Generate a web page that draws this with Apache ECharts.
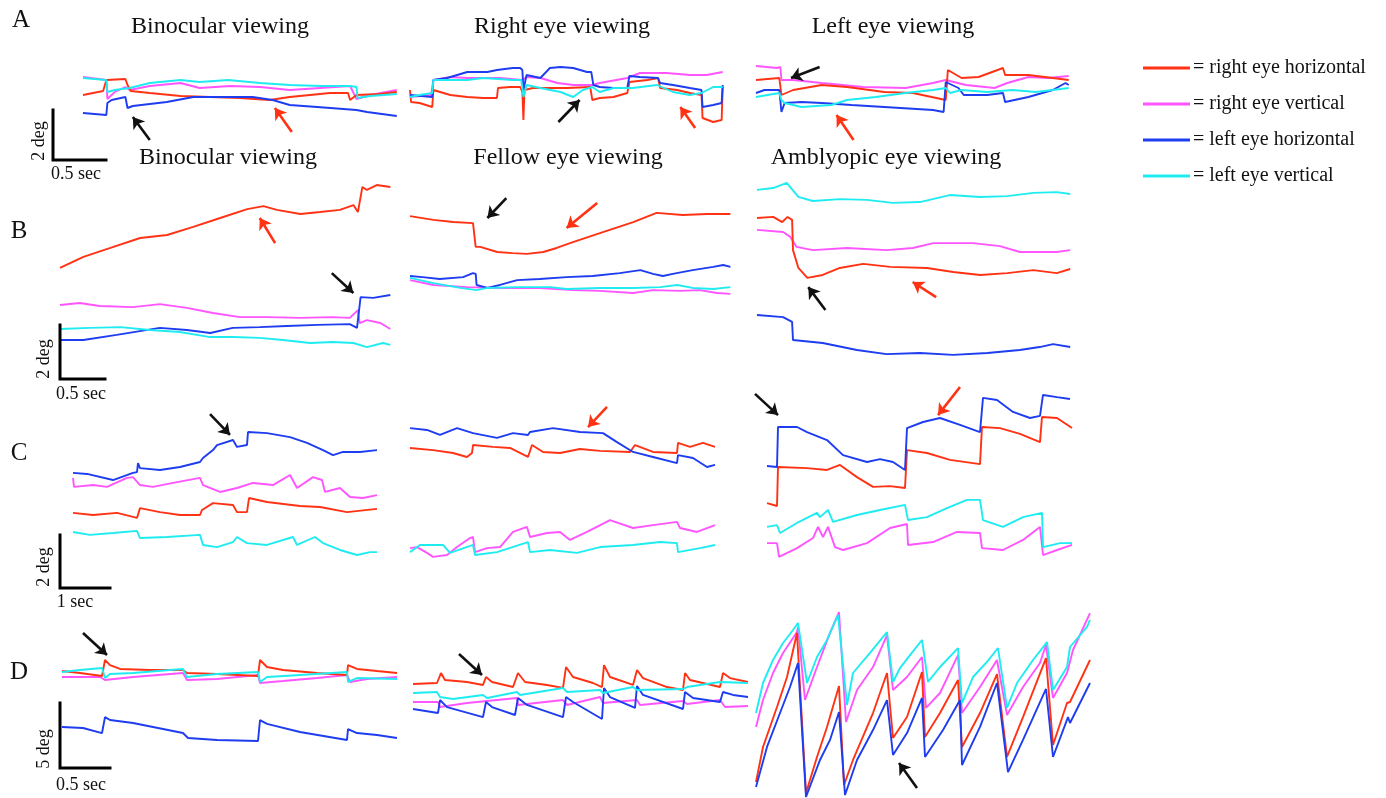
<!DOCTYPE html>
<html><head><meta charset="utf-8">
<script src="https://cdn.jsdelivr.net/npm/echarts/dist/echarts.min.js"></script>
<style>html,body{margin:0;padding:0;background:#fff}#c{width:1386px;height:798px}</style>
</head><body><div id="c"></div>
<script>
// ---- labels ----
const traceKeys = ['rv','rh','lh','lv'];
const traceNames = {rh:'= right eye horizontal', rv:'= right eye vertical', lh:'= left eye horizontal', lv:'= left eye vertical'};
const legendOrder = ['rh','rv','lh','lv'];
const rowLetters = ['A','B','C','D'];
const titlesRowA = ['Binocular viewing','Right eye viewing','Left eye viewing'];
const titlesRowB = ['Binocular viewing','Fellow eye viewing','Amblyopic eye viewing'];
const scaleLabels = {A:['2 deg','0.5 sec'],B:['2 deg','0.5 sec'],C:['2 deg','1 sec'],D:['5 deg','0.5 sec']};
const scaleBars = {A:[[0,2],[0,0],[0.5,0]],B:[[0,2],[0,0],[0.5,0]],C:[[0,2],[0,0],[1,0]],D:[[0,5],[0,0],[0.5,0]]};

// ---- data: [time (s), position (deg)] ----
const A1_rh=[[0,1.20],[0.19,1.36],[0.22,1.80],[0.40,1.84],[0.42,1.60],[0.45,1.36],[0.63,1.28],[0.92,1.16],[1.20,1.12],[1.48,1.08],[1.76,1.00],[1.95,1.12],[2.14,1.20],[2.33,1.28],[2.50,1.28],[2.52,1.00],[2.58,1.20],[2.80,1.24],[2.96,1.32]];
const A1_rv=[[0,1.92],[0.22,1.80],[0.23,1.04],[0.30,1.32],[0.40,1.52],[0.44,1.40],[0.63,1.56],[0.92,1.68],[1.10,1.48],[1.39,1.56],[1.67,1.52],[1.95,1.40],[2.24,1.48],[2.52,1.56],[2.58,1.04],[2.71,1.20],[2.96,1.40]];
const A1_lh=[[0,0.48],[0.22,0.40],[0.23,0.88],[0.27,1.00],[0.40,1.12],[0.42,0.68],[0.47,0.76],[0.79,0.92],[1.04,1.12],[1.42,1.12],[1.60,1.12],[1.79,1.00],[1.95,0.80],[2.21,0.72],[2.58,0.60],[2.59,0.68],[2.68,0.52],[2.96,0.36]];
const A1_lv=[[0,1.88],[0.22,1.80],[0.23,1.32],[0.30,1.40],[0.44,1.48],[0.63,1.68],[0.92,1.80],[1.10,1.72],[1.37,1.80],[1.67,1.68],[1.95,1.60],[2.24,1.56],[2.52,1.56],[2.58,1.52],[2.59,1.08],[2.71,1.16],[2.96,1.24]];
const A1_black=[[[0.63,-0.60],[0.47,0.32]]];
const A1_red=[[[1.97,-0.28],[1.81,0.68]]];

const A2_lh=[[0,1.20],[0.21,1.12],[0.22,1.80],[0.35,1.88],[0.54,2.12],[0.73,2.12],[0.82,2.20],[0.97,2.28],[1.04,2.28],[1.06,2.20],[1.07,1.40],[1.10,2.00],[1.23,1.88],[1.32,2.28],[1.42,2.32],[1.54,2.28],[1.67,2.12],[1.71,2.12],[1.73,1.60],[1.79,1.52],[1.92,1.48],[2.05,1.48],[2.07,1.96],[2.17,1.92],[2.34,1.88],[2.36,1.68],[2.48,1.60],[2.64,1.48],[2.75,1.40],[2.76,0.72],[2.86,0.80],[2.94,0.88],[2.95,1.60]];
const A2_rh=[[0,1.40],[0.01,0.92],[0.09,0.88],[0.21,0.72],[0.22,1.40],[0.38,1.20],[0.54,1.12],[0.69,1.08],[0.82,1.08],[0.83,1.48],[0.94,1.52],[1.04,1.52],[1.06,1.32],[1.07,0.20],[1.08,1.40],[1.16,1.48],[1.32,1.48],[1.48,1.48],[1.70,1.52],[1.72,1.00],[1.79,1.08],[1.92,1.12],[2.05,1.28],[2.07,1.72],[2.24,1.80],[2.34,1.88],[2.36,1.48],[2.52,1.40],[2.64,1.28],[2.75,1.20],[2.76,0.28],[2.86,0.12],[2.94,0.20],[2.95,1.52]];
const A2_lv=[[0,1.12],[0.09,1.20],[0.21,1.28],[0.22,1.80],[0.38,1.80],[0.54,1.80],[0.69,1.88],[0.97,1.80],[1.05,1.80],[1.07,1.12],[1.10,1.60],[1.23,1.48],[1.42,1.32],[1.54,1.12],[1.63,1.40],[1.72,1.52],[1.79,1.32],[1.92,1.48],[2.10,1.48],[2.33,1.60],[2.48,1.32],[2.64,1.20],[2.75,1.28],[2.86,1.52],[2.95,1.52]];
const A2_rv=[[0,1.12],[0.20,1.20],[0.22,1.80],[0.38,1.92],[0.54,1.88],[0.85,1.88],[1.06,1.80],[1.10,1.92],[1.23,1.88],[1.39,1.68],[1.54,1.60],[1.72,1.60],[1.79,1.68],[2.05,1.88],[2.17,2.08],[2.42,2.08],[2.64,2.00],[2.80,2.00],[2.95,2.12]];
const A2_black=[[[1.40,0.12],[1.60,1.00]]];
const A2_red=[[[2.69,-0.12],[2.55,0.72]]];

const A3_rv=[[0,2.36],[0.20,2.28],[0.23,2.32],[0.24,1.80],[0.35,1.80],[0.62,1.68],[1.01,1.52],[1.41,1.48],[1.67,1.68],[1.79,1.80],[1.98,1.60],[2.25,1.48],[2.37,1.68],[2.57,1.92],[2.76,1.88],[2.95,1.96]];
const A3_rh=[[0,1.80],[0.22,1.88],[0.24,1.20],[0.35,1.40],[0.62,1.60],[0.86,1.52],[1.21,1.32],[1.48,1.28],[1.79,1.00],[1.81,2.20],[1.94,1.88],[2.10,1.92],[2.33,2.28],[2.35,2.00],[2.57,2.00],[2.80,1.88],[2.95,1.80]];
const A3_lh=[[0,1.28],[0.08,1.40],[0.22,1.40],[0.24,0.52],[0.27,0.88],[0.43,0.92],[0.62,0.88],[0.90,0.80],[1.21,0.72],[1.67,0.60],[1.77,0.52],[1.79,1.72],[1.91,1.48],[1.96,1.20],[2.18,1.20],[2.33,1.28],[2.35,0.92],[2.57,1.12],[2.80,1.40],[2.92,1.68],[2.95,1.60]];
const A3_lv=[[0,1.12],[0.22,1.28],[0.24,1.00],[0.27,0.88],[0.43,0.72],[0.71,0.80],[0.86,1.00],[1.13,1.12],[1.41,1.28],[1.67,1.40],[1.79,1.48],[1.83,1.28],[1.94,1.40],[2.18,1.32],[2.42,1.40],[2.64,1.32],[2.80,1.40],[2.95,1.48]];
const A3_black=[[[0.60,2.32],[0.33,1.88]]];
const A3_red=[[[0.92,-0.60],[0.76,0.40]]];

const B1_rh=[[0,4.15],[0.26,4.56],[0.56,4.89],[0.89,5.26],[1.19,5.37],[1.48,5.67],[1.78,6.00],[2.08,6.33],[2.26,6.44],[2.41,6.30],[2.67,6.15],[2.89,6.22],[3.11,6.30],[3.26,6.48],[3.31,6.22],[3.36,7.15],[3.41,7.04],[3.52,7.22],[3.67,7.15]];
const B1_rv=[[0,2.78],[0.22,2.85],[0.44,2.74],[0.81,2.70],[1.11,2.81],[1.41,2.67],[1.70,2.48],[2.00,2.33],[2.30,2.33],[2.67,2.30],[3.03,2.33],[3.22,2.30],[3.31,2.59],[3.33,2.11],[3.41,2.22],[3.56,2.11],[3.67,1.89]];
const B1_lv=[[0,1.89],[0.33,1.93],[0.67,1.96],[1.00,1.85],[1.33,1.78],[1.67,1.59],[1.92,1.59],[2.22,1.56],[2.48,1.48],[2.78,1.37],[3.03,1.41],[3.26,1.37],[3.41,1.22],[3.59,1.37],[3.67,1.30]];
const B1_lh=[[0,1.48],[0.26,1.48],[0.63,1.67],[1.11,1.93],[1.41,1.85],[1.67,1.74],[1.92,1.93],[2.22,1.96],[2.52,2.00],[2.86,2.04],[3.22,2.07],[3.30,1.93],[3.34,3.07],[3.48,3.04],[3.67,3.15]];
const B1_black=[[[3.02,3.96],[3.26,3.22]]];
const B1_red=[[[2.39,5.07],[2.22,6.00]]];

const B2_rh=[[0,6.07],[0.26,5.93],[0.48,5.85],[0.70,5.81],[0.73,4.93],[0.78,4.93],[0.97,4.74],[1.14,4.70],[1.30,4.67],[1.48,4.74],[1.63,4.89],[1.81,5.11],[2.11,5.44],[2.48,5.85],[2.74,6.19],[3.03,6.11],[3.30,6.15],[3.56,6.15]];
const B2_lh=[[0,3.85],[0.14,3.81],[0.33,3.74],[0.59,3.81],[0.70,3.96],[0.73,3.93],[0.74,3.52],[0.86,3.41],[1.00,3.52],[1.19,3.70],[1.44,3.74],[1.74,3.81],[2.03,3.85],[2.33,3.96],[2.56,4.07],[2.70,3.93],[2.81,3.85],[2.92,3.93],[3.14,4.07],[3.37,4.19],[3.48,4.26],[3.56,4.19]];
const B2_lv=[[0,3.78],[0.26,3.59],[0.56,3.41],[0.74,3.33],[0.86,3.41],[1.19,3.44],[1.56,3.44],[1.74,3.37],[2.11,3.41],[2.48,3.41],[2.78,3.44],[2.97,3.52],[3.14,3.41],[3.37,3.37],[3.56,3.44]];
const B2_rv=[[0,3.70],[0.26,3.52],[0.63,3.44],[1.00,3.41],[1.44,3.41],[1.81,3.33],[2.11,3.30],[2.48,3.22],[2.70,3.33],[3.00,3.30],[3.22,3.33],[3.41,3.22],[3.56,3.19]];
const B2_black=[[[1.07,6.74],[0.86,6.00]]];
const B2_red=[[[2.08,6.56],[1.74,5.63]]];

const B3_lv=[[0,7.04],[0.18,7.11],[0.33,7.30],[0.46,6.78],[0.62,6.63],[0.92,6.70],[1.22,6.67],[1.51,6.56],[1.81,6.59],[2.14,6.85],[2.48,6.78],[2.78,6.81],[3.07,6.93],[3.33,6.96],[3.48,6.89]];
const B3_rh=[[0,6.00],[0.18,6.04],[0.28,5.85],[0.34,6.04],[0.39,5.93],[0.40,4.81],[0.46,4.15],[0.56,3.78],[0.73,3.89],[0.92,4.15],[1.18,4.30],[1.48,4.19],[1.89,4.15],[2.18,4.00],[2.48,3.89],[2.78,3.96],[3.07,4.07],[3.33,3.96],[3.48,4.11]];
const B3_rv=[[0,5.56],[0.29,5.48],[0.37,5.30],[0.44,4.93],[0.62,4.81],[1.00,4.89],[1.44,4.81],[1.73,4.89],[1.96,5.07],[2.40,5.07],[2.70,4.96],[2.92,4.74],[3.33,4.74],[3.48,4.81]];
const B3_lh=[[0,2.41],[0.29,2.33],[0.39,2.15],[0.40,1.48],[0.73,1.37],[1.11,1.11],[1.44,0.96],[1.81,1.00],[2.18,0.93],[2.56,1.00],[2.92,1.11],[3.14,1.22],[3.29,1.33],[3.48,1.22]];
const B3_black=[[[0.76,2.59],[0.57,3.44]]];
const B3_red=[[[1.99,3.07],[1.73,3.63]]];

const C1_lh=[[0,4.42],[0.28,4.38],[0.80,4.15],[1.20,4.42],[1.28,4.45],[1.30,4.79],[1.34,4.60],[1.74,4.53],[2.14,4.64],[2.54,4.83],[2.60,4.98],[2.80,5.28],[2.88,5.47],[3.20,5.66],[3.28,5.40],[3.48,5.47],[3.50,5.96],[3.88,5.92],[4.34,5.77],[4.68,5.55],[5.00,5.28],[5.20,5.09],[5.40,5.21],[5.74,5.21],[6.08,5.28]];
const C1_rv=[[0,4.23],[0.02,3.89],[0.40,3.96],[0.68,3.89],[1.08,4.23],[1.20,4.26],[1.34,3.96],[1.60,3.89],[2.00,4.04],[2.54,4.23],[2.60,3.96],[2.94,3.70],[3.28,3.85],[3.60,4.04],[4.00,3.96],[4.34,4.34],[4.48,3.85],[4.80,4.26],[4.98,4.15],[5.04,3.70],[5.34,3.85],[5.54,3.51],[5.80,3.47],[6.08,3.58]];
const C1_rh=[[0,2.91],[0.40,2.83],[0.88,2.91],[1.28,2.72],[1.34,3.09],[1.74,2.94],[2.14,2.83],[2.54,2.83],[2.58,3.02],[2.80,3.28],[3.20,3.21],[3.28,2.94],[3.48,2.94],[3.52,3.47],[3.88,3.32],[4.54,3.17],[4.94,3.13],[5.48,2.94],[6.08,3.06]];
const C1_lv=[[0,2.19],[0.34,2.08],[0.80,2.15],[1.28,2.23],[1.34,1.96],[1.88,2.00],[2.54,2.08],[2.60,1.70],[2.88,1.62],[3.20,1.81],[3.28,2.00],[3.48,1.77],[3.88,1.70],[4.40,2.00],[4.48,1.70],[4.84,2.00],[5.00,1.77],[5.34,1.51],[5.68,1.32],[5.94,1.43],[6.08,1.43]];
const C1_black=[[[2.74,6.64],[3.14,5.85]]];
const C1_red=[];

const C2_lh=[[0,6.11],[0.34,6.04],[0.60,5.85],[0.94,6.11],[1.26,5.92],[1.74,5.74],[2.06,5.92],[2.36,5.85],[2.40,5.96],[2.86,6.11],[3.40,5.96],[3.86,5.92],[4.14,5.58],[4.46,5.21],[4.86,5.02],[5.34,4.79],[5.36,5.09],[5.66,4.98],[5.94,4.64],[6.10,4.72]];
const C2_rh=[[0,5.36],[0.46,5.28],[0.86,5.17],[1.14,5.02],[1.24,5.17],[1.26,5.47],[1.66,5.40],[2.00,5.36],[2.36,5.02],[2.44,5.47],[2.66,5.21],[3.00,5.17],[3.40,5.32],[3.80,5.25],[4.40,5.21],[4.50,5.47],[4.86,5.21],[5.34,5.17],[5.36,5.55],[5.60,5.40],[5.86,5.55],[6.10,5.40]];
const C2_rv=[[0,1.58],[0.14,1.62],[0.34,1.40],[0.46,1.25],[0.74,1.32],[0.94,1.62],[1.20,1.96],[1.26,2.00],[1.30,1.43],[1.54,1.58],[1.80,1.62],[2.06,2.19],[2.34,2.38],[2.40,2.00],[2.74,2.15],[3.00,2.19],[3.20,1.89],[3.54,2.19],[4.00,2.64],[4.46,2.34],[4.86,2.45],[5.34,2.57],[5.40,2.34],[5.74,2.19],[6.10,2.45]];
const C2_lv=[[0,1.43],[0.20,1.70],[0.66,1.70],[0.80,1.40],[1.26,1.70],[1.30,1.32],[1.74,1.43],[2.36,1.81],[2.40,1.43],[2.80,1.51],[3.34,1.40],[3.80,1.62],[4.46,1.70],[5.00,1.81],[5.34,1.77],[5.36,1.43],[5.80,1.58],[6.10,1.70]];
const C2_black=[];
const C2_red=[[[3.94,6.91],[3.56,6.15]]];

const C3_lh=[[0,4.68],[0.20,4.64],[0.22,6.15],[0.60,6.15],[0.80,5.96],[1.20,5.66],[1.52,5.09],[2.00,4.83],[2.26,4.94],[2.52,4.83],[2.76,4.53],[2.80,6.11],[3.12,6.34],[3.46,6.49],[3.86,6.23],[4.26,5.96],[4.32,7.25],[4.60,7.17],[4.92,6.72],[5.26,6.49],[5.46,6.57],[5.52,7.36],[5.80,7.28],[6.06,7.21]];
const C3_rh=[[0,3.28],[0.20,3.17],[0.22,4.64],[0.80,4.60],[1.20,4.53],[1.46,4.72],[1.80,4.26],[2.12,3.89],[2.46,3.92],[2.76,3.85],[2.80,5.28],[3.20,5.17],[3.66,4.91],[4.26,4.75],[4.30,6.15],[4.66,6.11],[5.06,5.89],[5.46,5.58],[5.50,6.53],[5.80,6.49],[6.10,6.11]];
const C3_lv=[[0,2.38],[0.20,2.45],[0.26,2.15],[0.60,2.53],[1.00,2.91],[1.06,2.75],[1.22,3.02],[1.32,2.57],[1.80,2.83],[2.26,3.02],[2.76,3.21],[2.82,2.64],[3.20,2.75],[3.60,3.09],[4.00,3.40],[4.26,3.40],[4.32,2.64],[4.72,2.38],[5.12,2.75],[5.50,2.91],[5.52,1.62],[5.86,1.77],[6.10,1.77]];
const C3_rv=[[0,1.77],[0.20,1.77],[0.24,1.25],[0.60,1.58],[0.92,1.96],[1.02,2.38],[1.12,2.00],[1.22,2.38],[1.36,1.62],[1.52,1.51],[2.00,1.77],[2.46,2.34],[2.80,2.49],[2.82,1.70],[3.32,1.81],[3.80,2.19],[4.26,2.15],[4.30,1.58],[4.72,1.51],[5.12,1.89],[5.46,2.38],[5.52,1.32],[5.80,1.51],[6.10,1.70]];
const C3_black=[[[-0.24,7.40],[0.22,6.60]]];
const C3_red=[[[3.86,7.66],[3.42,6.60]]];

const D1_rh=[[0,9.92],[0.18,9.77],[0.40,9.54],[0.43,10.77],[0.48,10.38],[0.58,10.08],[0.88,10.00],[1.21,10.00],[1.25,9.77],[1.55,9.69],[1.96,9.54],[1.98,10.77],[2.05,10.23],[2.21,10.00],[2.55,9.77],[2.85,9.62],[2.86,10.38],[2.95,10.08],[3.15,9.92],[3.35,9.77]];
const D1_lv=[[0,9.85],[0.18,10.00],[0.40,10.15],[0.43,9.38],[0.48,9.69],[0.71,9.77],[1.21,10.08],[1.25,9.46],[1.55,9.69],[1.96,9.85],[1.98,9.08],[2.05,9.46],[2.38,9.62],[2.85,9.85],[2.86,9.08],[2.95,9.38],[3.35,9.31]];
const D1_rv=[[0,9.46],[0.38,9.46],[0.43,9.23],[0.71,9.46],[1.21,9.77],[1.25,9.23],[1.55,9.31],[1.96,9.62],[1.98,9.00],[2.21,9.15],[2.55,9.38],[2.85,9.62],[2.88,9.08],[3.05,9.31],[3.35,9.46]];
const D1_lh=[[0,5.62],[0.21,5.54],[0.40,5.15],[0.43,6.38],[0.48,6.15],[0.71,5.92],[1.21,5.15],[1.26,4.77],[1.55,4.62],[1.96,4.54],[1.98,6.15],[2.05,5.85],[2.38,5.23],[2.85,4.62],[2.86,5.46],[2.95,5.15],[3.15,5.00],[3.35,4.77]];
const D1_black=[[[0.21,12.85],[0.45,11.15]]];
const D1_red=[];

const D2_rh=[[0,8.92],[0.24,9.00],[0.28,9.77],[0.32,9.23],[0.54,9.08],[0.70,8.85],[0.73,9.46],[0.79,9.08],[1.00,8.69],[1.05,9.77],[1.12,9.08],[1.34,8.85],[1.50,8.62],[1.53,10.23],[1.60,9.46],[1.80,9.00],[1.89,8.69],[1.91,10.38],[1.97,9.46],[2.20,8.85],[2.24,10.00],[2.30,9.38],[2.54,8.69],[2.70,8.46],[2.72,9.77],[2.77,9.23],[3.07,8.69],[3.10,9.77],[3.17,9.38],[3.35,9.08]];
const D2_lv=[[0,8.23],[0.24,8.31],[0.27,7.92],[0.40,7.77],[0.70,8.08],[0.74,7.85],[1.04,8.31],[1.07,8.08],[1.50,8.62],[1.54,8.31],[1.87,8.46],[1.90,8.23],[2.20,8.69],[2.24,8.46],[2.70,8.54],[2.74,8.69],[3.07,9.08],[3.35,9.00]];
const D2_rv=[[0,7.54],[0.25,7.54],[0.27,7.15],[0.54,7.46],[1.04,7.85],[1.05,7.31],[1.50,7.69],[1.54,7.31],[1.87,7.92],[1.90,7.46],[2.24,7.69],[2.27,7.31],[2.70,7.62],[2.74,7.38],[3.07,7.69],[3.12,7.15],[3.35,7.23]];
const D2_lh=[[0,7.00],[0.25,6.69],[0.27,7.69],[0.34,7.15],[0.70,6.38],[0.73,7.54],[0.79,7.15],[1.02,6.54],[1.05,7.85],[1.14,7.31],[1.50,6.38],[1.53,7.92],[1.60,7.54],[1.89,6.23],[1.91,8.62],[1.97,7.92],[2.22,7.08],[2.24,8.77],[2.30,8.08],[2.70,7.00],[2.72,8.31],[2.80,7.85],[3.07,7.54],[3.10,8.31],[3.20,8.08],[3.35,7.92]];
const D2_black=[[[0.46,11.23],[0.69,9.62]]];
const D2_red=[];

const D3_lv=[[0,6.69],[0.07,9.00],[0.17,10.77],[0.27,12.08],[0.37,13.08],[0.42,13.62],[0.51,9.00],[0.61,11.00],[0.71,12.31],[0.82,14.23],[0.91,7.31],[0.97,9.77],[1.14,11.31],[1.31,12.92],[1.37,9.08],[1.44,10.15],[1.54,11.15],[1.66,12.31],[1.72,9.08],[1.84,10.23],[2.02,11.69],[2.06,7.46],[2.17,9.46],[2.31,10.62],[2.42,11.69],[2.51,7.08],[2.61,9.00],[2.77,10.77],[2.91,12.15],[2.97,8.46],[3.11,10.23],[3.14,11.77],[3.31,13.31],[3.34,13.85]];
const D3_rv=[[0,5.62],[0.07,7.69],[0.17,9.77],[0.27,11.31],[0.41,12.92],[0.42,13.31],[0.49,7.69],[0.61,10.23],[0.74,12.85],[0.83,14.46],[0.90,6.00],[1.01,8.46],[1.17,10.23],[1.31,12.69],[1.37,8.46],[1.51,9.46],[1.66,11.00],[1.70,7.08],[1.84,8.23],[2.02,11.15],[2.06,6.69],[2.24,8.69],[2.41,10.77],[2.51,6.54],[2.67,8.69],[2.84,10.54],[2.90,11.92],[2.97,7.85],[3.11,9.77],[3.17,11.54],[3.34,14.38]];
const D3_rh=[[0,1.38],[0.07,4.08],[0.21,7.15],[0.31,9.46],[0.41,12.85],[0.50,0.54],[0.61,3.31],[0.71,5.62],[0.83,8.77],[0.88,1.15],[0.97,3.08],[1.17,6.69],[1.31,9.77],[1.37,4.77],[1.51,6.38],[1.66,9.85],[1.69,4.85],[1.84,6.69],[2.02,9.23],[2.06,4.08],[2.24,6.69],[2.41,9.69],[2.51,3.31],[2.67,6.38],[2.90,10.92],[2.97,4.23],[3.11,7.46],[3.14,7.54],[3.34,10.77]];
const D3_lh=[[0,1.00],[0.11,4.08],[0.24,6.69],[0.34,8.69],[0.42,10.54],[0.50,0.23],[0.64,3.08],[0.74,4.62],[0.83,6.77],[0.89,0.38],[1.01,3.08],[1.17,5.38],[1.31,7.69],[1.37,3.46],[1.51,5.15],[1.66,7.85],[1.69,3.31],[1.87,5.38],[2.04,7.69],[2.06,2.69],[2.24,5.62],[2.41,9.00],[2.52,2.15],[2.67,4.62],[2.90,8.54],[2.97,3.31],[3.12,6.38],[3.14,5.92],[3.34,9.00]];
const D3_black=[[[1.61,0.92],[1.43,2.85]]];
const D3_red=[];

// ---- layout (pixels) ----
const ROW = {
  A:{kx:106,ky:25,yb:125,top:55,h:110},
  B:{kx:90,ky:27,yb:380,top:170,h:215},
  C:{kx:50,ky:26.5,yb:590,top:380,h:215},
  D:{kx:100,ky:13,yb:800,top:600,h:198}
};
const COLS = {
  A:[{x0:83,left:75,w:330},{x0:410,left:402,w:330},{x0:756,left:745,w:335}],
  B:[{x0:60,left:50,w:345},{x0:410,left:400,w:340},{x0:757,left:745,w:340}],
  C:[{x0:73,left:60,w:330},{x0:410,left:400,w:330},{x0:767,left:745,w:340}],
  D:[{x0:62,left:55,w:350},{x0:413,left:405,w:350},{x0:756,left:748,w:345}]
};
const SCALE = {A:{x0:53,yb:160},B:{x0:60,yb:379},C:{x0:60,yb:588},D:{x0:60,yb:768}};
const COLORS = {rh:'#ff3214', rv:'#ff55ff', lh:'#1e3cf0', lv:'#1eecf0'};
const PANEL_DATA = {
  A1:{rh:A1_rh,rv:A1_rv,lh:A1_lh,lv:A1_lv,black:A1_black,red:A1_red},
  A2:{rh:A2_rh,rv:A2_rv,lh:A2_lh,lv:A2_lv,black:A2_black,red:A2_red},
  A3:{rh:A3_rh,rv:A3_rv,lh:A3_lh,lv:A3_lv,black:A3_black,red:A3_red},
  B1:{rh:B1_rh,rv:B1_rv,lh:B1_lh,lv:B1_lv,black:B1_black,red:B1_red},
  B2:{rh:B2_rh,rv:B2_rv,lh:B2_lh,lv:B2_lv,black:B2_black,red:B2_red},
  B3:{rh:B3_rh,rv:B3_rv,lh:B3_lh,lv:B3_lv,black:B3_black,red:B3_red},
  C1:{rh:C1_rh,rv:C1_rv,lh:C1_lh,lv:C1_lv,black:C1_black,red:C1_red},
  C2:{rh:C2_rh,rv:C2_rv,lh:C2_lh,lv:C2_lv,black:C2_black,red:C2_red},
  C3:{rh:C3_rh,rv:C3_rv,lh:C3_lh,lv:C3_lv,black:C3_black,red:C3_red},
  D1:{rh:D1_rh,rv:D1_rv,lh:D1_lh,lv:D1_lv,black:D1_black,red:D1_red},
  D2:{rh:D2_rh,rv:D2_rv,lh:D2_lh,lv:D2_lv,black:D2_black,red:D2_red},
  D3:{rh:D3_rh,rv:D3_rv,lh:D3_lh,lv:D3_lv,black:D3_black,red:D3_red}
};

const grids=[], xAxes=[], yAxes=[], series=[];
function addGrid(left, top, w, h, x0, yb, kx, ky){
  grids.push({left:left, top:top, width:w, height:h, containLabel:false});
  const i = grids.length-1;
  xAxes.push({type:'value', gridIndex:i, show:false, min:(left-x0)/kx, max:(left+w-x0)/kx});
  yAxes.push({type:'value', gridIndex:i, show:false, min:(yb-(top+h))/ky, max:(yb-top)/ky});
  return i;
}
function arrowSeries(i, arr, color){
  if(!arr.length) return;
  series.push({type:'lines', coordinateSystem:'cartesian2d', xAxisIndex:i, yAxisIndex:i, silent:true, animation:false,
    symbol:['none','arrow'], symbolSize:11, z:5,
    lineStyle:{color:color, width:2.6, opacity:1, curveness:0},
    data: arr.map(a=>({coords:a}))});
}
rowLetters.forEach(r=>{
  const R = ROW[r];
  COLS[r].forEach((c,ci)=>{
    const i = addGrid(c.left, R.top, c.w, R.h, c.x0, R.yb, R.kx, R.ky);
    const P = PANEL_DATA[r+(ci+1)];
    traceKeys.forEach(k=>{
      series.push({type:'line', name:traceNames[k], xAxisIndex:i, yAxisIndex:i, data:P[k],
        showSymbol:false, symbol:'none', clip:false, animation:false, silent:true,
        lineStyle:{color:COLORS[k], width:1.9}, itemStyle:{color:COLORS[k]}});
    });
    arrowSeries(i, P.black, '#111');
    arrowSeries(i, P.red, COLORS.rh);
  });
  // scale bar
  const S = SCALE[r], bar = scaleBars[r];
  const bw = bar[2][0]*R.kx, bh = bar[0][1]*R.ky;
  const j = addGrid(S.x0, S.yb-bh, bw, bh, S.x0, S.yb, R.kx, R.ky);
  series.push({type:'line', xAxisIndex:j, yAxisIndex:j, data:bar, showSymbol:false, symbol:'none', clip:false,
    animation:false, silent:true, lineStyle:{color:'#000', width:3, cap:'square', join:'miter'}});
});

const FONT = 'Liberation Serif';
const graphics = [];
function txt(t, x, y, size, rot){
  graphics.push({type:'text', x:x, y:y, rotation:rot||0, silent:true,
    style:{text:t, fill:'#111', font: size+'px "'+FONT+'"', textAlign:'center', textVerticalAlign:'middle'}});
}
const letterPos = {A:[21,20],B:[19,231],C:[19,453],D:[19,672]};
rowLetters.forEach(r=>txt(r, letterPos[r][0], letterPos[r][1], 25));
const titleA_x=[220,562,893], titleB_x=[228,568,886];
titlesRowA.forEach((t,i)=>txt(t, titleA_x[i], 27, 24));
titlesRowB.forEach((t,i)=>txt(t, titleB_x[i], 158, 24));
const scaleLabelPos = {A:[[39,141],[76,174]],B:[[44,359],[81,394]],C:[[44,567],[75,602]],D:[[44,749],[81,785]]};
rowLetters.forEach(r=>{
  txt(scaleLabels[r][0], scaleLabelPos[r][0][0], scaleLabelPos[r][0][1], 18, Math.PI/2);
  txt(scaleLabels[r][1], scaleLabelPos[r][1][0], scaleLabelPos[r][1][1], 18);
});

const chart = echarts.init(document.getElementById('c'));
chart.setOption({
  backgroundColor:'#fff',
  animation:false,
  grid:grids, xAxis:xAxes, yAxis:yAxes, series:series,
  legend:{data:legendOrder.map(k=>traceNames[k]), orient:'vertical', left:1143, top:57, padding:0,
    icon:'rect', itemWidth:47, itemHeight:3, itemGap:14, selectedMode:false,
    textStyle:{fontFamily:FONT, fontSize:20, color:'#111', lineHeight:22, padding:[0,0,0,-2]}},
  graphic:graphics
});
</script></body></html>
